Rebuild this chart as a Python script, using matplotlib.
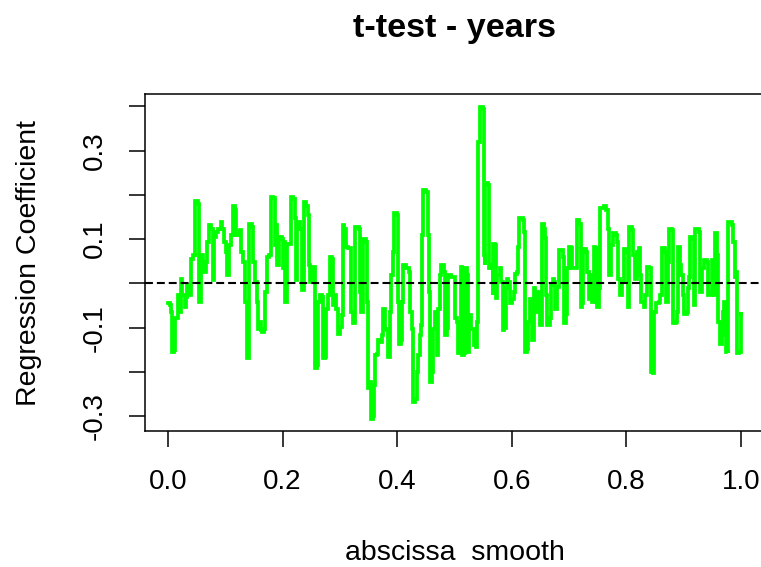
import matplotlib as mpl
mpl.use("Agg")

import matplotlib.pyplot as plt  # noqa
import numpy as np               # noqa

# smoothed regression coefficient along the abscissa
xs = [0.000, 0.0035, 0.005, 0.007, 0.010, 0.012, 0.015, 0.017, 0.019, 0.022, 0.025, 0.029, 0.031, 0.034,
      0.037, 0.040, 0.041, 0.044, 0.047, 0.048, 0.052, 0.054, 0.057, 0.058, 0.062, 0.066, 0.069, 0.072,
      0.076, 0.078, 0.081, 0.084, 0.088, 0.092, 0.095, 0.098, 0.101, 0.103, 0.107, 0.110, 0.113, 0.117,
      0.119, 0.123, 0.125, 0.128, 0.131, 0.134, 0.135, 0.138, 0.141, 0.142, 0.146, 0.149, 0.152, 0.155,
      0.157,
      0.159, 0.162, 0.165, 0.167, 0.169, 0.172, 0.176, 0.179, 0.184, 0.186, 0.188, 0.191, 0.194, 0.199,
      0.201, 0.203, 0.205, 0.208, 0.214, 0.219, 0.221, 0.224, 0.226, 0.231, 0.234, 0.237, 0.241, 0.244,
      0.246, 0.248, 0.252, 0.256, 0.257, 0.260, 0.262, 0.266, 0.268, 0.271, 0.274, 0.276, 0.279, 0.282,
      0.286, 0.288, 0.291, 0.294, 0.297, 0.301, 0.303, 0.305, 0.308, 0.311, 0.314, 0.317,
      0.320, 0.323, 0.326, 0.327, 0.333, 0.335, 0.337, 0.340, 0.345, 0.347, 0.349, 0.352, 0.354, 0.357,
      0.359, 0.361, 0.365, 0.367, 0.371, 0.373, 0.375, 0.378, 0.382, 0.384, 0.387, 0.388, 0.390, 0.393,
      0.394, 0.399, 0.401, 0.403, 0.407, 0.409, 0.411, 0.416, 0.420, 0.422, 0.425, 0.427, 0.431, 0.434,
      0.436, 0.439, 0.442, 0.444, 0.445, 0.451, 0.453, 0.455, 0.457, 0.461, 0.463, 0.466, 0.469, 0.471,
      0.474, 0.477, 0.481, 0.484, 0.487, 0.489,
      0.494, 0.498, 0.501, 0.504, 0.506, 0.509, 0.511, 0.513, 0.517, 0.519, 0.522, 0.523, 0.525, 0.529,
      0.532, 0.534, 0.537, 0.540, 0.541, 0.544, 0.545, 0.549, 0.551, 0.553, 0.554, 0.559, 0.561, 0.564,
      0.567, 0.568, 0.571, 0.573, 0.575, 0.579, 0.582, 0.584, 0.587, 0.589, 0.592, 0.594, 0.597, 0.600,
      0.603, 0.606, 0.609, 0.611, 0.613, 0.619, 0.621, 0.623, 0.626, 0.628, 0.632, 0.635, 0.638, 0.640,
      0.644, 0.647, 0.650, 0.652, 0.656,
      0.658, 0.660, 0.662, 0.666, 0.669, 0.672, 0.674, 0.676, 0.679, 0.682, 0.688, 0.690, 0.691, 0.694,
      0.697, 0.700, 0.704, 0.705, 0.710, 0.713, 0.718, 0.720, 0.722, 0.724, 0.729, 0.732, 0.735, 0.737,
      0.740, 0.743, 0.746, 0.749, 0.752, 0.754, 0.760, 0.765, 0.768, 0.770, 0.773, 0.776, 0.781, 0.784,
      0.786, 0.789, 0.792, 0.795, 0.799, 0.802, 0.805, 0.809, 0.812, 0.815, 0.818, 0.822, 0.824,
      0.826, 0.830, 0.833, 0.836, 0.840, 0.842, 0.846, 0.848, 0.852, 0.856, 0.859, 0.862, 0.867, 0.869,
      0.872, 0.874, 0.880, 0.882, 0.886, 0.888, 0.890, 0.893, 0.896, 0.899, 0.901, 0.905, 0.908, 0.910,
      0.911, 0.915, 0.917, 0.919, 0.926, 0.928, 0.931, 0.935, 0.941, 0.943, 0.947, 0.950, 0.953, 0.955,
      0.958, 0.960, 0.963, 0.967, 0.969, 0.971, 0.973, 0.977, 0.978, 0.984, 0.986, 0.989, 0.991, 0.993,
      0.997, 0.999, 1.000]

coef = [-0.045, -0.049, -0.064, -0.155, -0.150, -0.079, -0.079, -0.026, -0.064, 0.011, -0.026, -0.053, -0.030, -0.004,
        -0.026, 0.000, 0.056, 0.064, 0.060, 0.186, 0.180, -0.041, -0.030, 0.064, 0.026, 0.049, 0.094, 0.132,
        0.124, 0.007, 0.105, 0.117, 0.124, 0.139, 0.124, 0.094, 0.071, 0.019, 0.086, 0.109, 0.174, 0.165,
        0.109, 0.117, 0.120, 0.071, 0.049, 0.041, -0.041, -0.168, -0.160, 0.135, 0.128, 0.049, 0.004, -0.041,
        -0.102,
        -0.087, -0.105, -0.109, -0.102, -0.019, 0.060, 0.064, 0.196, 0.192, 0.086, 0.132, 0.041, 0.105, 0.100,
        0.034, 0.094, -0.041, 0.090, 0.196, 0.190, 0.147, 0.007, 0.139, 0.124, -0.015, 0.184, 0.175, 0.154,
        0.041, 0.004, 0.038, -0.011, -0.192, -0.185, -0.041, -0.026, -0.030, -0.169, -0.165, -0.057, -0.026, 0.060,
        0.056, -0.049, -0.026, -0.057, -0.113, -0.098, -0.072, 0.132, 0.124, 0.083, 0.079, 0.079,
        -0.064, -0.090, -0.087, 0.128, 0.124, -0.019, -0.064, 0.100, 0.094, -0.041, -0.237, -0.222, -0.305, -0.300,
        -0.230, -0.162, -0.160, -0.128, -0.132, -0.117, -0.057, -0.102, -0.105, -0.166, -0.162, -0.064, 0.019, 0.071,
        0.158, 0.154, -0.041, -0.136, -0.128, -0.041, 0.041, 0.034, 0.026, -0.064, -0.102, -0.267, -0.260, -0.199,
        -0.162, -0.117, -0.094, 0.109, 0.211, 0.207, 0.109, -0.019, -0.222, -0.200, -0.102, -0.064, -0.162, -0.057,
        0.019, 0.041, 0.026, -0.117, -0.100, 0.019,
        0.015, 0.015, -0.079, -0.087, -0.158, -0.150, 0.038, -0.162, -0.158, 0.034, 0.020, -0.154, -0.072, -0.102,
        -0.102, -0.139, -0.143, -0.087, 0.320, 0.320, 0.399, 0.395, 0.064, 0.041, 0.226, 0.222, 0.034, 0.041,
        -0.026, 0.090, 0.086, -0.032, 0.019, 0.034, 0.004, -0.105, -0.100, -0.011, 0.011, 0.004, -0.045, -0.034,
        -0.019, 0.022, 0.026, 0.083, 0.147, 0.143, 0.117, -0.154, -0.147, -0.087, -0.034, -0.128, -0.011, -0.064,
        -0.019, -0.026, -0.094, 0.135, 0.124,
        0.102, -0.026, -0.094, -0.079, -0.004, 0.011, 0.004, -0.057, -0.008, 0.075, 0.075, 0.060, -0.090, -0.070,
        0.034, 0.083, 0.079, 0.034, 0.034, 0.143, 0.135, -0.053, -0.045, 0.077, 0.071, 0.026, -0.034, 0.019,
        -0.041, 0.083, 0.079, -0.053, -0.011, 0.171, 0.174, 0.165, 0.124, 0.019, 0.086, 0.115, 0.109, 0.094,
        0.011, -0.026, 0.004, 0.077, 0.071, -0.053, 0.128, 0.120, 0.064, 0.011, 0.071, 0.079, 0.019,
        -0.041, -0.053, -0.026, 0.038, 0.034, -0.199, -0.203, -0.064, -0.045, -0.041, -0.026, 0.079, 0.071, -0.041,
        0.049, 0.124, 0.120, -0.090, -0.087, -0.064, 0.083, 0.041, 0.019, -0.026, -0.068, -0.064, -0.011, 0.015,
        0.105, 0.100, -0.049, 0.124, 0.117, -0.020, 0.034, 0.053, 0.049, -0.026, -0.020, 0.053, -0.026, 0.115,
        0.064, -0.087, -0.136, -0.117, -0.064, -0.041, -0.154, -0.158, 0.139, 0.132, 0.094, 0.015, 0.026, -0.158,
        -0.154, -0.064, -0.068]

xticks  = [0.0, 0.2, 0.4, 0.6, 0.8, 1.0]
xlabels = ['0.0', '0.2', '0.4', '0.6', '0.8', '1.0']
yticks  = [-0.3, -0.2, -0.1, 0.0, 0.1, 0.2, 0.3, 0.4]
ylabels = ['-0.3', '', '-0.1', '', '0.1', '', '0.3', '']

plt.rcParams['font.family'] = ['Liberation Sans', 'DejaVu Sans']

W, H = 761.0, 567.0
fig = plt.figure(figsize=(W / 100, H / 100), dpi=100)
ax = fig.add_axes([145 / W, 136 / H, 619 / W, 336.7 / H])

x = np.array(xs)
y = np.array(coef)

# R style axis limits: data range padded by 4% on each side
def rlim(v):
  lo, hi = v.min(), v.max()
  d = (hi - lo) * 0.04
  return lo - d, hi + d

ax.set_xlim(*rlim(x))
ax.set_ylim(*rlim(y))

ax.plot(x, y, color='#00ff00', lw=2.7, drawstyle='steps-post', solid_joinstyle='miter')
ax.axhline(0, color='black', lw=1.5, dashes=(3.8, 1.9))

for s in ax.spines.values():
  s.set_linewidth(1.1)

ax.set_xticks(xticks)
ax.set_xticklabels(xlabels)
ax.set_yticks(yticks)
ax.set_yticklabels(ylabels, rotation=90, va='center')
ax.tick_params(axis='both', direction='out', length=11.5, width=1.1, labelsize=20, colors='black')
ax.tick_params(axis='x', pad=16)
ax.tick_params(axis='y', pad=15)

fig.text(454.5 / W, 1 - 37 / H, 't-test - years', ha='center', va='baseline', fontsize=24.6, fontweight='bold')
fig.text(455 / W, 1 - 560 / H, 'abscissa  smooth', ha='center', va='baseline', fontsize=20.5)
fig.text(36.5 / W, 1 - 262.7 / H, 'Regression Coefficient', ha='center', va='baseline',
         rotation=90, rotation_mode='anchor', fontsize=20.5)

fig.savefig('out.png', dpi=100)
